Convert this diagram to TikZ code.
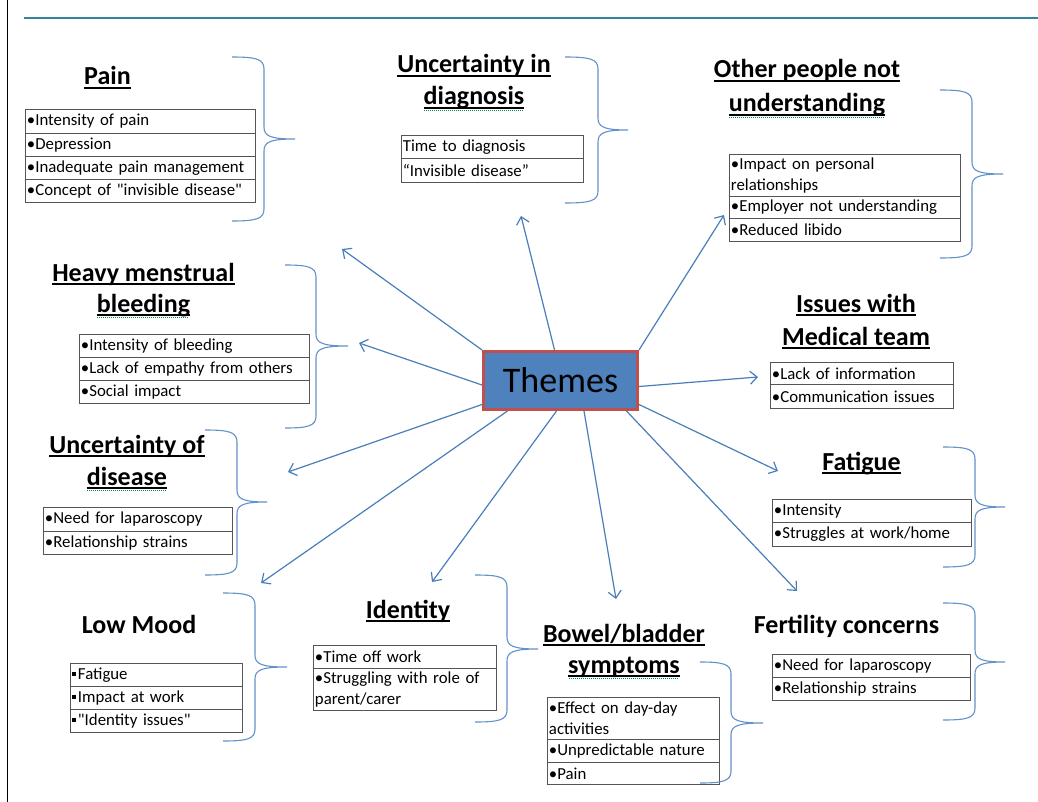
\documentclass[tikz,border=0pt]{standalone}
\usepackage{fontspec}
\setmainfont{Carlito}
\usetikzlibrary{arrows.meta}
\definecolor{arrowblue}{RGB}{74,126,187}
\definecolor{braceblue}{RGB}{100,145,200}
\definecolor{themefill}{RGB}{79,129,189}
\definecolor{themeborder}{RGB}{192,80,77}
\definecolor{cellgray}{RGB}{85,85,85}
\definecolor{toplinecol}{RGB}{49,133,155}
\definecolor{spellgreen}{RGB}{0,140,60}
\newcommand{\ulw}[1]{\setbox0\hbox{#1}\rlap{\vrule width\wd0 height -1.8pt depth 3.6pt}\box0}
\newcommand{\ulsp}[1]{\setbox0\hbox{#1}\rlap{\vrule width\wd0 height -1.8pt depth 3.6pt}\rlap{\color{spellgreen}\leaders\hbox to 2pt{\hss\vrule width 1pt height -4.8pt depth 5.8pt\hss}\hskip\wd0}\box0}
\newcommand{\sqb}{\raisebox{0.2em}{\rule{0.26em}{0.26em}}\hspace{0.1em}}
\newcommand{\rbrc}[6]{%
\draw[bracestyle] (#1,#4) .. controls (#2-8,#4) and (#2,#4+2) .. (#2,#4+12) -- (#2,#5-12) .. controls (#2,#5-3) and (#2+6,#5) .. (#3,#5) .. controls (#2+6,#5) and (#2,#5+3) .. (#2,#5+12) -- (#2,#6-12) .. controls (#2,#6-2) and (#2-8,#6) .. (#1,#6);}
\tikzset{
  cell/.style={draw=cellgray, line width=0.9pt, anchor=north west, inner xsep=1.5pt, inner ysep=0pt, align=left, font=\fontsize{16.8}{21}\selectfont},
  ttl/.style={anchor=base, inner sep=0pt, font=\fontsize{26}{30}\selectfont\bfseries},
  arr/.style={draw=arrowblue, line width=1.2pt, -{Straight Barb[length=7pt,width=13pt,line width=1.2pt]}},
  bracestyle/.style={draw=braceblue, line width=1.1pt},
}
\begin{document}
\begin{tikzpicture}[x=1pt,y=-1pt]
\useasboundingbox (0,0) rectangle (1038,802);
\fill[white] (0,0) rectangle (1038,802);
\draw[black, line width=1pt] (7,0) -- (7,802);
\draw[toplinecol, line width=1.5pt] (24,18) -- (1038,18);

% Themes
\node[draw=themeborder, fill=themefill, line width=3pt, minimum width=154, minimum height=58, inner sep=0pt, font=\fontsize{36}{40}\selectfont] (themes) at (560.5,380.5) {Themes};

% Pain
\node[ttl] (pain-t) at (107.5,85) {\ulw{Pain}};
\node[cell,text width=227,minimum height=24] (pain-1) at (25,109) {•Intensity of pain};
\node[cell,text width=227,minimum height=23] (pain-2) at (25,133) {•Depression};
\node[cell,text width=227,minimum height=23] (pain-3) at (25,156) {•Inadequate pain management};
\node[cell,text width=227,minimum height=23] (pain-4) at (25,179) {•Concept of \textquotedbl invisible disease\textquotedbl};
\rbrc{232}{264}{295}{57}{139}{221}

% Uncertainty in diagnosis
\node[ttl] (diag-t1) at (474,73) {\ulw{Uncertainty in}};
\node[ttl] (diag-t2) at (474,105) {\ulsp{diagnosis}};
\node[cell,text width=179,minimum height=23] (diag-1) at (401,135) {Time to diagnosis};
\node[cell,text width=179,minimum height=24] (diag-2) at (401,158) {“Invisible disease”};
\rbrc{565}{598}{628}{57}{130}{203}

% Other people
\node[ttl] (oth-t1) at (807,78) {\ulw{Other people not}};
\node[ttl] (oth-t2) at (807,112) {\ulsp{understanding}};
\node[cell,text width=228,minimum height=42] (oth-1) at (729,154) {•Impact on personal\\relationships};
\node[cell,text width=228,minimum height=22] (oth-2) at (729,196) {•Employer not understanding};
\node[cell,text width=228,minimum height=23] (oth-3) at (729,218) {•Reduced libido};
\rbrc{940}{972}{1003}{90}{174}{258}

% Heavy menstrual bleeding
\node[ttl] (hmb-t1) at (143.5,281) {\ulw{Heavy menstrual}};
\node[ttl] (hmb-t2) at (143.5,312) {\ulsp{bleeding}};
\node[cell,text width=227,minimum height=23] (hmb-1) at (79,334) {•Intensity of bleeding};
\node[cell,text width=227,minimum height=23] (hmb-2) at (79,357) {•Lack of empathy from others};
\node[cell,text width=227,minimum height=23] (hmb-3) at (79,380) {•Social impact};
\rbrc{285}{316}{348}{265}{346}{428}

% Issues with Medical team
\node[ttl] (med-t1) at (856,312) {\ulw{Issues with}};
\node[ttl] (med-t2) at (856,345) {\ulw{Medical team}};
\node[cell,text width=180,minimum height=22] (med-1) at (770,362) {•Lack of information};
\node[cell,text width=180,minimum height=24] (med-2) at (770,384) {•Communication issues};

% Uncertainty of disease
\node[ttl] (unc-t1) at (127,453) {\ulw{Uncertainty of}};
\node[ttl] (unc-t2) at (127,485) {\ulsp{disease}};
\node[cell,text width=186,minimum height=24] (unc-1) at (43,507) {•Need for laparoscopy};
\node[cell,text width=186,minimum height=23] (unc-2) at (43,531) {•Relationship strains};
\rbrc{205}{237}{267}{430}{502}{575}

% Fatigue
\node[ttl] (fat-t) at (861.5,470) {\ulw{Fatigue}};
\node[cell,text width=196,minimum height=23] (fat-1) at (772,499) {•Intensity};
\node[cell,text width=196,minimum height=24] (fat-2) at (772,522) {•Struggles at work/home};
\rbrc{943}{975}{1005}{447}{507}{567}

% Low Mood
\node[ttl] (low-t) at (139,633) {Low Mood};
\node[cell,text width=169,minimum height=23] (low-1) at (70,663) {\sqb Fatigue};
\node[cell,text width=169,minimum height=23] (low-2) at (70,686) {\sqb Impact at work};
\node[cell,text width=169,minimum height=23] (low-3) at (70,709) {\sqb\textquotedbl Identity issues\textquotedbl};
\rbrc{223}{255}{287}{593}{667}{741}

% Identity
\node[ttl] (id-t) at (408,618) {\ulw{Identity}};
\node[cell,text width=180,minimum height=23] (id-1) at (313,645) {•Time off work};
\node[cell,text width=180,minimum height=42] (id-2) at (313,668) {•Struggling with role of\\parent/carer};
\rbrc{475}{507}{538}{575}{649}{722}

% Bowel/bladder symptoms
\node[ttl] (bow-t1) at (624,642) {\ulw{Bowel/bladder}};
\node[ttl] (bow-t2) at (624,673) {\ulsp{symptoms}};
\node[cell,text width=169,minimum height=42] (bow-1) at (547,697) {•Effect on day-day\\activities};
\node[cell,text width=169,minimum height=23] (bow-2) at (547,739) {•Unpredictable nature};
\node[cell,text width=169,minimum height=22] (bow-3) at (547,762) {•Pain};
\rbrc{700}{731}{763}{662}{723}{783}

% Fertility concerns
\node[ttl] (fer-t) at (846.5,633) {Fertility concerns};
\node[cell,text width=195,minimum height=23] (fer-1) at (772,654) {•Need for laparoscopy};
\node[cell,text width=195,minimum height=23] (fer-2) at (772,677) {•Relationship strains};
\rbrc{943}{975}{1005}{603}{662}{720}

% arrow tips
\coordinate (pain-a) at (342,249);
\coordinate (diag-a) at (521,216);
\coordinate (oth-a) at (724,215);
\coordinate (hmb-a) at (359,343);
\coordinate (med-a) at (758,377);
\coordinate (unc-a) at (288,472);
\coordinate (fat-a) at (778,471);
\coordinate (low-a) at (261,583);
\coordinate (id-a) at (432,582);
\coordinate (bow-a) at (616,599);
\coordinate (fer-a) at (797,591);

\draw[arr] (themes.north west) -- (pain-a);
\draw[arr] ([xshift=-6pt]themes.north) -- (diag-a);
\draw[arr] (themes.north east) -- (oth-a);
\draw[arr] ([yshift=-4.5pt]themes.west) -- (hmb-a);
\draw[arr] ([yshift=-6pt]themes.east) -- (med-a);
\draw[arr] ([yshift=-24pt]themes.west) -- (unc-a);
\draw[arr] ([yshift=-24pt]themes.east) -- (fat-a);
\draw[arr] ([xshift=-53pt]themes.south) -- (low-a);
\draw[arr] ([xshift=-4pt]themes.south) -- (id-a);
\draw[arr] ([xshift=23.5pt]themes.south) -- (bow-a);
\draw[arr] ([xshift=66pt]themes.south) -- (fer-a);
\end{tikzpicture}
\end{document}
